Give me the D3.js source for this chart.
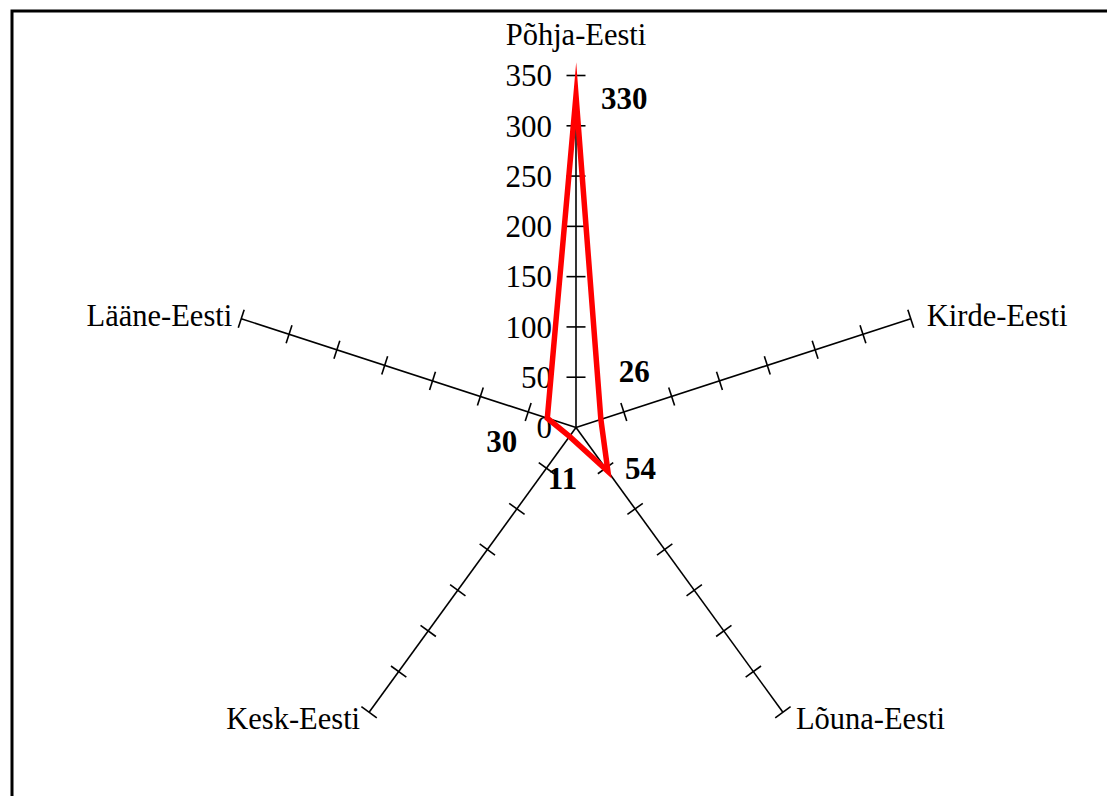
<!DOCTYPE html>
<html>
<head>
<meta charset="utf-8">
<script src="https://cdn.jsdelivr.net/npm/d3@7"></script>
<style>
  html, body { margin: 0; padding: 0; background: #fff; overflow: hidden; }
  svg { display: block; overflow: hidden; }
  text { font-family: "Times New Roman", "Liberation Serif", serif; fill: #000; }
</style>
</head>
<body>
<svg id="chart" width="1107" height="796"></svg>
<script>
// Regions of Estonia and their values
const regions = ["Põhja-Eesti", "Kirde-Eesti", "Lõuna-Eesti", "Kesk-Eesti", "Lääne-Eesti"];
const values = [330, 26, 54, 11, 30];
const tickValues = [0, 50, 100, 150, 200, 250, 300, 350];

const W = 1107, H = 796;
const cx = 576, cy = 427.5, R = 352;

const svg = d3.select("#chart");

// Outer frame: top and left edges run off the view
svg.append("path")
  .attr("d", `M12,${H + 10} L12,11 L${W + 10},11`)
  .attr("fill", "none").attr("stroke", "#000").attr("stroke-width", 3);

const r = d3.scaleLinear().domain([0, 350]).range([0, R]);
const ang = i => i * 2 * Math.PI / regions.length;
const px = (i, v) => cx + r(v) * Math.sin(ang(i));
const py = (i, v) => cy - r(v) * Math.cos(ang(i));

const axes = svg.append("g");
regions.forEach((name, i) => {
  const a = ang(i);
  axes.append("line")
    .attr("x1", cx).attr("y1", cy)
    .attr("x2", px(i, 350)).attr("y2", py(i, 350))
    .attr("stroke", "#000").attr("stroke-width", 1.6);
  // tick marks perpendicular to the spoke
  const nx = Math.cos(a), ny = Math.sin(a);
  tickValues.filter(t => t > 0).forEach(t => {
    const x = px(i, t), y = py(i, t);
    axes.append("line")
      .attr("x1", x - 9.5 * nx).attr("y1", y - 9.5 * ny)
      .attr("x2", x + 9.5 * nx).attr("y2", y + 9.5 * ny)
      .attr("stroke", "#000").attr("stroke-width", 1.6);
  });
});

// Value labels along the vertical spoke
svg.append("g").selectAll("text")
  .data(tickValues)
  .join("text")
  .attr("x", cx - 24)
  .attr("y", d => cy - r(d))
  .attr("dy", "0.35em")
  .attr("text-anchor", "end")
  .attr("font-size", 31)
  .text(d => d);

// Category labels at spoke ends
const catPos = [
  { dx: 0, dy: -31, anchor: "middle", base: "auto" },
  { dx: 16, dy: 0, anchor: "start", base: "middle" },
  { dx: 13, dy: 10, anchor: "start", base: "middle" },
  { dx: -9, dy: 10, anchor: "end", base: "middle" },
  { dx: -9, dy: 0, anchor: "end", base: "middle" }
];
svg.append("g").selectAll("text")
  .data(regions)
  .join("text")
  .attr("x", (d, i) => px(i, 350) + catPos[i].dx)
  .attr("y", (d, i) => py(i, 350) + catPos[i].dy)
  .attr("text-anchor", (d, i) => catPos[i].anchor)
  .attr("dominant-baseline", (d, i) => catPos[i].base)
  .attr("font-size", 30.5)
  .text(d => d);

// Data polygon
const line = d3.lineRadial()
  .angle((d, i) => ang(i))
  .radius(d => r(d))
  .curve(d3.curveLinearClosed);
svg.append("path")
  .attr("transform", `translate(${cx},${cy})`)
  .attr("d", line(values))
  .attr("fill", "none")
  .attr("stroke", "#ff0000")
  .attr("stroke-width", 5.5)
  .attr("stroke-linejoin", "miter")
  .attr("stroke-miterlimit", 20);

// Data value labels
const valPos = [
  { dx: 25, dy: 6, anchor: "start" },
  { dx: 18, dy: -45, anchor: "start" },
  { dx: 17, dy: 0, anchor: "start" },
  { dx: -7, dy: 45, anchor: "middle" },
  { dx: -30, dy: 27, anchor: "end" }
];
svg.append("g").selectAll("text")
  .data(values)
  .join("text")
  .attr("x", (d, i) => px(i, d) + valPos[i].dx)
  .attr("y", (d, i) => py(i, d) + valPos[i].dy)
  .attr("text-anchor", (d, i) => valPos[i].anchor)
  .attr("dominant-baseline", "middle")
  .attr("font-size", 31)
  .attr("font-weight", "bold")
  .text(d => d);
</script>
</body>
</html>
